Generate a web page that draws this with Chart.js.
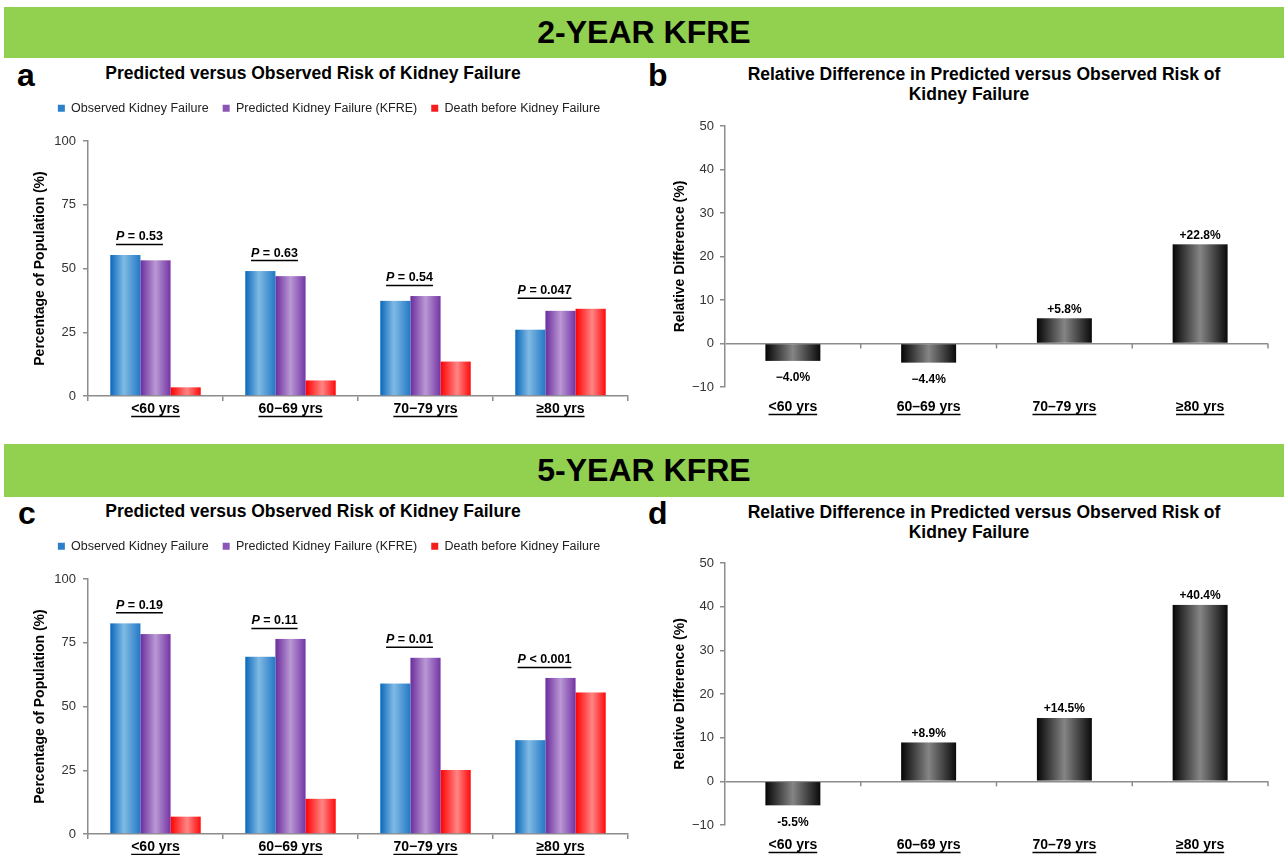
<!DOCTYPE html>
<html>
<head>
<meta charset="utf-8">
<script src="https://cdn.jsdelivr.net/npm/chart.js@4.4.1/dist/chart.umd.min.js"></script>
<style>
  html, body { margin: 0; padding: 0; background: #fff; }
  body { width: 1284px; height: 855px; position: relative; overflow: hidden; font-family: "Liberation Sans", Arial, sans-serif; color: #000; }
  .banner { position: absolute; left: 4px; width: 1280px; background: #92D050; display: flex; align-items: center; justify-content: center; font-weight: bold; font-size: 32px; }
  .letter { position: absolute; font-weight: bold; font-size: 32px; line-height: 32px; }
  .title { position: absolute; font-weight: bold; font-size: 17.5px; line-height: 20px; text-align: center; white-space: nowrap; }
  canvas { position: absolute; }
</style>
</head>
<body>
<div class="banner" style="top:7px;height:51px;">2-YEAR KFRE</div>
<div class="banner" style="top:444px;height:53px;">5-YEAR KFRE</div>

<div class="letter" style="left:17px;top:59px;">a</div>
<div class="letter" style="left:648px;top:59px;">b</div>
<div class="letter" style="left:18px;top:497px;">c</div>
<div class="letter" style="left:648px;top:497px;">d</div>

<div class="title" style="left:13px;top:63px;width:600px;">Predicted versus Observed Risk of Kidney Failure</div>
<div class="title" style="left:684px;top:64px;width:600px;">Relative Difference in Predicted versus Observed Risk of</div>
<div class="title" style="left:669px;top:84px;width:600px;">Kidney Failure</div>
<div class="title" style="left:13px;top:501px;width:600px;">Predicted versus Observed Risk of Kidney Failure</div>
<div class="title" style="left:684px;top:502px;width:600px;">Relative Difference in Predicted versus Observed Risk of</div>
<div class="title" style="left:669px;top:522px;width:600px;">Kidney Failure</div>

<canvas id="cA" width="640" height="347" style="left:0px;top:88px;width:640px;height:347px;"></canvas>
<canvas id="cB" width="680" height="320" style="left:640px;top:110px;width:680px;height:320px;"></canvas>
<canvas id="cC" width="640" height="329" style="left:0px;top:526px;width:640px;height:329px;"></canvas>
<canvas id="cD" width="680" height="308" style="left:640px;top:547px;width:680px;height:308px;"></canvas>

<script>
// ---------------- DATA ----------------
const categoriesAge = ['<60 yrs', '60\u221269 yrs', '70\u221279 yrs', '\u226580 yrs'];
const categoriesAgeRel = ['<60 yrs', '60\u201369 yrs', '70\u201379 yrs', '\u226580 yrs'];
const seriesNames = ['Observed Kidney Failure', 'Predicted Kidney Failure (KFRE)', 'Death before Kidney Failure'];

const observed2yr  = [55.3, 49.0, 37.3, 26.0];
const predicted2yr = [53.2, 47.0, 39.2, 33.4];
const death2yr     = [3.4, 6.1, 13.5, 34.2];
const pValues2yr   = ['= 0.53', '= 0.63', '= 0.54', '= 0.047'];
const relDiff2yr   = [-4.0, -4.4, 5.8, 22.8];

const observed5yr  = [82.6, 69.5, 59.0, 36.8];
const predicted5yr = [78.4, 76.5, 69.1, 61.2];
const death5yr     = [6.8, 13.8, 25.1, 55.5];
const pValues5yr   = ['= 0.19', '= 0.11', '= 0.01', '< 0.001'];
const relDiff5yr   = [-5.5, 8.9, 14.5, 40.4];

const yTicksPct = [0, 25, 50, 75, 100];
const yTicksRel = [-10, 0, 10, 20, 30, 40, 50];

// ---------------- STYLE ----------------
const FONT = '"Liberation Sans", Arial, sans-serif';
Chart.defaults.font.family = FONT;
Chart.defaults.color = '#222';

const GRAD = {
  blue:   [[0, '#0A68BB'], [0.45, '#80BAE4'], [1, '#2378C6']],
  purple: [[0, '#6B2C9C'], [0.5, '#B998D4'], [1, '#7434A4']],
  red:    [[0, '#FF0000'], [0.55, '#FF8585'], [1, '#FF0A0A']],
  black:  [[0, '#050505'], [0.5, '#858585'], [1, '#0A0A0A']]
};
const SOLID = { blue: '#2C7FCB', purple: '#8A55B6', red: '#F41E1E', black: '#333' };
const AXIS = '#8C8C8C';

// Draw bars with a horizontal gradient using the library's element geometry
const gradientBars = {
  id: 'gradientBars',
  beforeDatasetDraw(chart, args) {
    const ds = chart.data.datasets[args.index];
    if (!ds.grad) return;
    const ctx = chart.ctx;
    ctx.save();
    args.meta.data.forEach(el => {
      const p = el.getProps(['x', 'y', 'base', 'width'], true);
      const left = p.x - p.width / 2;
      const g = ctx.createLinearGradient(left, 0, left + p.width, 0);
      ds.grad.forEach(s => g.addColorStop(s[0], s[1]));
      ctx.fillStyle = g;
      ctx.fillRect(left, Math.min(p.y, p.base), p.width, Math.abs(p.base - p.y));
    });
    ctx.restore();
    return false;
  }
};

function hline(ctx, x1, x2, y) { ctx.beginPath(); ctx.moveTo(x1, y); ctx.lineTo(x2, y); ctx.stroke(); }

const annot = {
  id: 'annot',
  afterDatasetsDraw(chart, args, opts) {
    const ctx = chart.ctx;
    const xs = chart.scales.x;
    ctx.save();
    // underline category labels
    ctx.font = 'bold 14px ' + FONT;
    ctx.strokeStyle = '#000';
    ctx.lineWidth = 1.5;
    const ly = xs.top + (opts.tickLen || 0) + (opts.tickPad || 0) + 15.5;
    chart.data.labels.forEach((lab, i) => {
      const x = xs.getPixelForTick(i);
      const w = ctx.measureText(lab).width;
      hline(ctx, x - w / 2, x + w / 2, ly);
    });
    // P value labels
    if (opts.pValues) {
      ctx.textBaseline = 'middle';
      ctx.textAlign = 'left';
      ctx.fillStyle = '#000';
      opts.pValues.forEach((txt, i) => {
        let top = Infinity;
        chart.data.datasets.forEach((d, di) => {
          const el = chart.getDatasetMeta(di).data[i];
          top = Math.min(top, el.y);
        });
        const cx = xs.getPixelForValue(i) - 16;
        const cy = top - 18;
        ctx.font = 'italic bold 12.5px ' + FONT;
        const wP = ctx.measureText('P').width;
        ctx.font = 'bold 12.5px ' + FONT;
        const rest = ' ' + txt;
        const wR = ctx.measureText(rest).width;
        const left = cx - (wP + wR) / 2;
        ctx.font = 'italic bold 12.5px ' + FONT;
        ctx.fillText('P', left, cy);
        ctx.font = 'bold 12.5px ' + FONT;
        ctx.fillText(rest, left + wP, cy);
        hline(ctx, left, left + wP + wR, cy + 7.5);
      });
    }
    // value labels + zero line ticks for relative difference charts
    if (opts.valueLabels) {
      const meta = chart.getDatasetMeta(0);
      const data = chart.data.datasets[0].data;
      ctx.font = 'bold 12px ' + FONT;
      ctx.textAlign = 'center';
      ctx.textBaseline = 'middle';
      ctx.fillStyle = '#000';
      meta.data.forEach((el, i) => {
        const v = data[i];
        const txt = (v > 0 ? '+' : opts.minus) + Math.abs(v).toFixed(1) + '%';
        const y = v >= 0 ? el.y - 9 : el.y + 17;
        ctx.fillText(txt, el.x, y);
      });
      const y0 = chart.scales.y.getPixelForValue(0);
      ctx.strokeStyle = AXIS;
      ctx.lineWidth = 1.5;
      const n = chart.data.labels.length;
      for (let i = 1; i <= n; i++) {
        const x = xs.left + i * xs.width / n;
        ctx.beginPath(); ctx.moveTo(x, y0); ctx.lineTo(x, y0 + 5); ctx.stroke();
      }
    }
    ctx.restore();
  }
};

function popChart(id, obs, pred, death, pValues, xHeight, catLabels) {
  return new Chart(document.getElementById(id), {
    type: 'bar',
    data: {
      labels: catLabels,
      datasets: [
        { label: seriesNames[0], data: obs, backgroundColor: SOLID.blue, grad: GRAD.blue, xAxisID: 'x', yAxisID: 'y' },
        { label: seriesNames[1], data: pred, backgroundColor: SOLID.purple, grad: GRAD.purple, xAxisID: 'x', yAxisID: 'y' },
        { label: seriesNames[2], data: death, backgroundColor: SOLID.red, grad: GRAD.red, xAxisID: 'x', yAxisID: 'y' }
      ]
    },
    options: {
      responsive: false,
      animation: false,
      devicePixelRatio: 1,
      layout: { padding: { left: 30, right: 12, top: 0, bottom: 0 } },
      datasets: { bar: { categoryPercentage: 0.67, barPercentage: 1.0 } },
      plugins: {
        legend: {
          display: true,
          position: 'top',
          labels: { boxWidth: 7, boxHeight: 7, padding: 14, color: '#222', font: { size: 12.5 } }
        },
        tooltip: { enabled: false },
        annot: { pValues: pValues, tickLen: 5, tickPad: 0 }
      },
      scales: {
        x: {
          type: 'category',
          position: 'bottom',
          offset: true,
          grid: { display: true, drawOnChartArea: false, drawTicks: true, tickLength: 5, color: AXIS, lineWidth: 1.5, offset: true },
          border: { display: true, color: AXIS, width: 1.5 },
          ticks: { color: '#000', font: { size: 14, weight: 'bold' }, padding: 0, maxRotation: 0, autoSkip: false },
          afterFit: s => { s.height = xHeight; }
        },
        gap: {
          type: 'category',
          position: 'top',
          grid: { display: false },
          border: { display: false },
          ticks: { display: false },
          afterFit: s => { s.height = 16.5; }
        },
        y: {
          min: 0, max: 100,
          afterBuildTicks: s => { s.ticks = yTicksPct.map(v => ({ value: v })); },
          grid: { display: true, drawOnChartArea: false, drawTicks: true, tickLength: 5, color: AXIS, lineWidth: 1.5 },
          border: { display: true, color: AXIS, width: 1.5 },
          ticks: { color: '#333', font: { size: 13 }, padding: 7 },
          title: { display: true, text: 'Percentage of Population (%)', color: '#000', font: { size: 14, weight: 'bold' }, padding: { top: 1.6, bottom: 0 } },
          afterFit: s => { s.width = 58; }
        }
      }
    },
    plugins: [gradientBars, annot]
  });
}

function relChart(id, values, minusChar, xHeight) {
  return new Chart(document.getElementById(id), {
    type: 'bar',
    data: {
      labels: categoriesAgeRel,
      datasets: [
        { label: 'Relative Difference', data: values, backgroundColor: SOLID.black, grad: GRAD.black, xAxisID: 'x', yAxisID: 'y' }
      ]
    },
    options: {
      responsive: false,
      animation: false,
      devicePixelRatio: 1,
      layout: { padding: { left: 0, right: 52, top: 0, bottom: 0 } },
      datasets: { bar: { categoryPercentage: 0.405, barPercentage: 1.0 } },
      plugins: {
        legend: { display: false },
        tooltip: { enabled: false },
        annot: { valueLabels: true, minus: minusChar, tickLen: 0, tickPad: 12 }
      },
      scales: {
        x: {
          type: 'category',
          position: 'bottom',
          offset: true,
          grid: { display: false, drawTicks: false },
          border: { display: false },
          ticks: { color: '#000', font: { size: 14, weight: 'bold' }, padding: 12, maxRotation: 0, autoSkip: false },
          afterFit: s => { s.height = xHeight; }
        },
        gap: {
          type: 'category',
          position: 'top',
          grid: { display: false },
          border: { display: false },
          ticks: { display: false },
          afterFit: s => { s.height = 16; }
        },
        y: {
          min: -10, max: 50,
          afterBuildTicks: s => { s.ticks = yTicksRel.map(v => ({ value: v })); },
          grid: {
            display: true, drawOnChartArea: true, drawTicks: true, tickLength: 5,
            color: c => (c.tick && c.tick.value === 0) ? AXIS : 'rgba(0,0,0,0)',
            tickColor: AXIS, lineWidth: 1.5
          },
          border: { display: true, color: AXIS, width: 1.5 },
          ticks: { color: '#333', font: { size: 13 }, padding: 6, callback: v => v < 0 ? '\u2212' + Math.abs(v) : String(v) },
          title: { display: true, text: 'Relative Difference (%)', color: '#000', font: { size: 14, weight: 'bold' }, padding: { top: 31.6, bottom: 0 } },
          afterFit: s => { s.width = 85; }
        }
      }
    },
    plugins: [gradientBars, annot]
  });
}

popChart('cA', observed2yr, predicted2yr, death2yr, pValues2yr, 39, categoriesAge);
relChart('cB', relDiff2yr, '\u2212', 43);
popChart('cC', observed5yr, predicted5yr, death5yr, pValues5yr, 21, categoriesAge);
relChart('cD', relDiff5yr, '-', 30);
</script>
</body>
</html>
